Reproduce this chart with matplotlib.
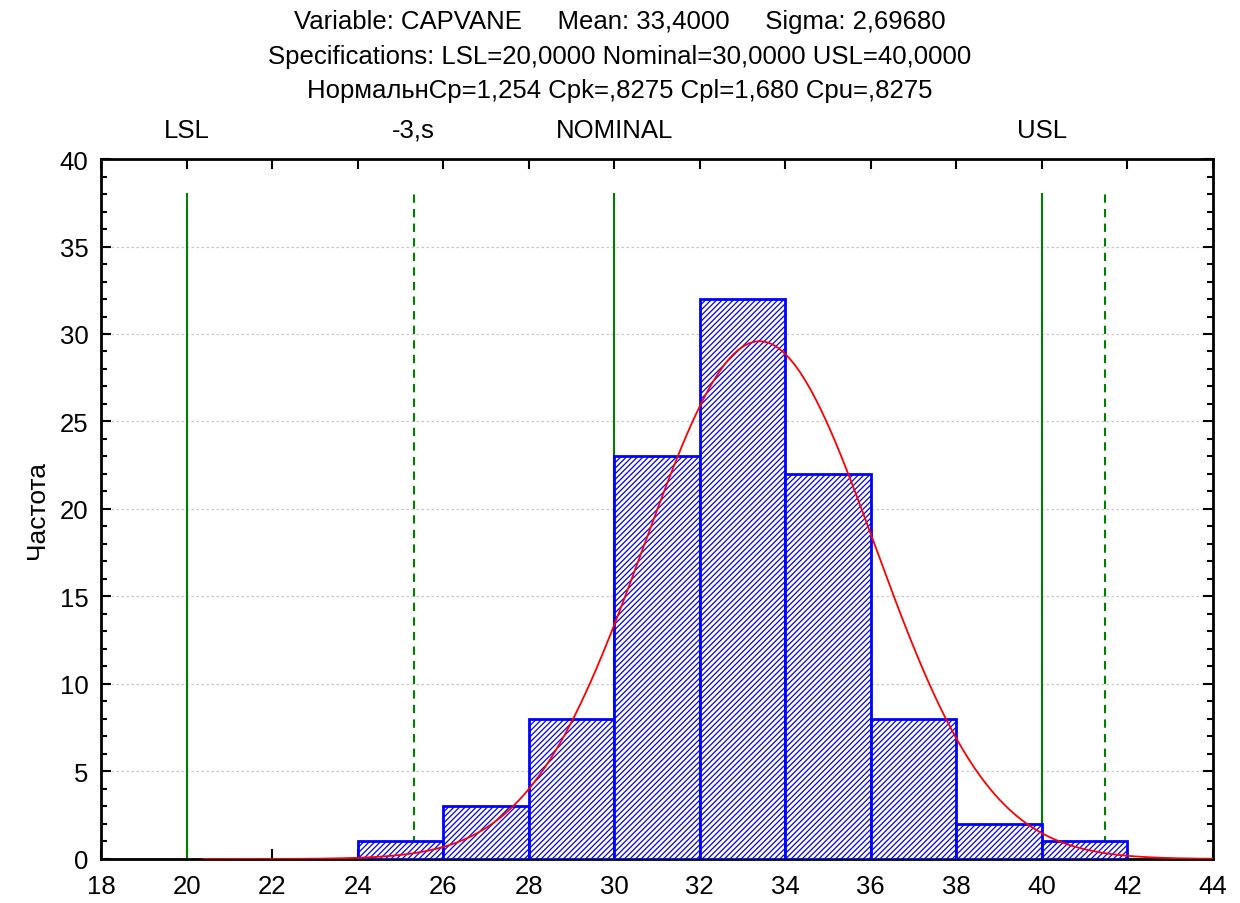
import numpy as np
import matplotlib.pyplot as plt
from matplotlib.ticker import MultipleLocator

plt.rcParams['font.family'] = ['Liberation Sans', 'DejaVu Sans']
plt.rcParams['hatch.color'] = 'blue'
plt.rcParams['hatch.linewidth'] = 0.9

bin_edges = [24, 26, 28, 30, 32, 34, 36, 38, 40, 42]
counts = [1, 3, 8, 23, 32, 22, 8, 2, 1]
mean = 33.4
sigma = 2.6968
lsl, nominal, usl = 20.0, 30.0, 40.0
n_total = sum(counts)
bin_w = 2.0

fig = plt.figure(figsize=(12.4, 9.04), dpi=100)
ax = fig.add_axes([0.0815, 0.0487, 0.8965, 0.7743])

lefts = np.array(bin_edges[:-1])
ax.bar(lefts, counts, width=bin_w, align='edge', facecolor='white',
       edgecolor='blue', linewidth=2, hatch='//////', zorder=3)

x = np.linspace(20.4, 44, 400)
y = n_total * bin_w / (sigma * np.sqrt(2 * np.pi)) * np.exp(-0.5 * ((x - mean) / sigma) ** 2)
ax.plot(x, y, color='red', linewidth=1.3, zorder=4)

lo3 = mean - 3 * sigma
hi3 = mean + 3 * sigma
for xv in [lsl, nominal, usl]:
    ax.plot([xv, xv], [0, 38], color='green', linewidth=1.5, zorder=2)
for xv in [lo3, hi3]:
    ax.plot([xv, xv], [0, 38], color='green', linewidth=1.5, linestyle=(0, (4, 3)), zorder=2)

ax.set_xlim(18, 44)
ax.set_ylim(0, 40)
ax.xaxis.set_major_locator(MultipleLocator(2))
ax.yaxis.set_major_locator(MultipleLocator(5))
ax.yaxis.set_minor_locator(MultipleLocator(1))
ax.tick_params(axis='both', which='both', direction='in', top=True, right=True,
               labelsize=18.5, width=1.5)
ax.tick_params(axis='both', which='major', length=7)
ax.tick_params(axis='both', which='minor', length=4)
ax.tick_params(axis='x', which='major', pad=11)
ax.tick_params(axis='y', which='major', pad=9)
ax.grid(axis='y', color='#c8c8c8', linestyle=(0, (2, 2)), linewidth=0.9, zorder=0)
for s in ax.spines.values():
    s.set_linewidth(2)
ax.set_ylabel('Частота', fontsize=19, labelpad=8)

for xv, lab in [(lsl, 'LSL'), (lo3, '-3,s'), (nominal, 'NOMINAL'), (usl, 'USL')]:
    ax.text(xv, 41.0, lab, ha='center', va='bottom', fontsize=18.5)

fig.text(0.5, 0.976, 'Variable: CAPVANE     Mean: 33,4000     Sigma: 2,69680',
         ha='center', va='center', fontsize=18.5)
fig.text(0.5, 0.937, 'Specifications: LSL=20,0000 Nominal=30,0000 USL=40,0000',
         ha='center', va='center', fontsize=18.5)
fig.text(0.5, 0.899, 'НормальнCp=1,254 Cpk=,8275 Cpl=1,680 Cpu=,8275',
         ha='center', va='center', fontsize=18.5)

fig.savefig('out.png', dpi=100)
